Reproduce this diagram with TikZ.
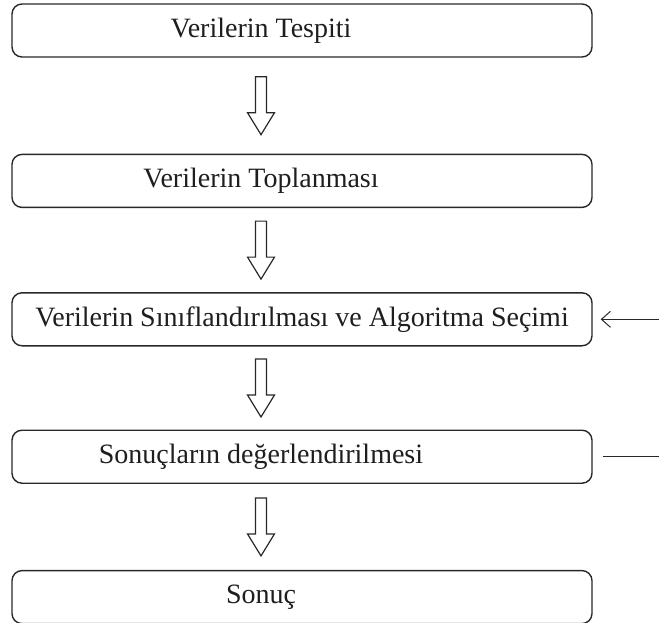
\documentclass[tikz,border=0pt]{standalone}
\usepackage{fontspec}
\setmainfont{Liberation Serif}
\usetikzlibrary{positioning, arrows.meta, calc}
\definecolor{LineColor}{RGB}{40,40,40}
\definecolor{TextColor}{RGB}{30,30,30}

\begin{document}
\begin{tikzpicture}[x=1pt, y=1pt,
    box/.style={draw=LineColor, line width=1.4pt, rounded corners=10pt, minimum width=580pt, minimum height=53pt},
    lbl/.style={text=TextColor, font=\fontsize{28}{30}\selectfont, inner sep=0pt},
    blk/.style={draw=LineColor, line width=1.2pt, fill=white, line join=miter},
    fb/.style={draw=LineColor, line width=1pt}]
  \useasboundingbox (0,0) rectangle (659,-623);
  \coordinate (ax) at (261,0);
  \coordinate (edge) at (659,0);

  \node[box] (b1) at (302,-30.5) {};
  \node[box, below=96pt of b1] (b2) {};
  \node[box, below=84pt of b2] (b3) {};
  \node[box, below=83pt of b3] (b4) {};
  \node[box, below=86pt of b4] (b5) {};

  \node[lbl] (t1) at (b1.center -| ax) {Verilerin Tespiti};
  \node[lbl] (t2) at (b2.center -| ax) {Verilerin Toplanması};
  \node[lbl] (t3) at (b3.center) {Verilerin Sınıflandırılması ve Algoritma Seçimi};
  \node[lbl] (t4) at (b4.center -| ax) {Sonuçların değerlendirilmesi};
  \node[lbl] (t5) at (b5.center -| ax) {Sonuç};

  % hollow block arrows between the steps
  \foreach \a/\b in {b1/b2, b2/b3, b3/b4, b4/b5}
    \draw[blk] ($($(\a.south -| ax)!.5!(\b.north -| ax)$)+(-5.5,29)$) -- ++(11,0) -- ++(0,-36)
      -- ++(8,0) -- ++(-13.5,-22) -- ++(-13.5,22) -- ++(8,0) -- cycle;

  % feedback from the evaluation back to the selection
  \draw[fb, -{Straight Barb[length=9pt, width=16pt, line width=1pt]}] (b3.east -| edge) -- ([xshift=8pt]b3.east);
  \draw[fb] ([xshift=10pt]b4.east) -- (b4.east -| edge);
\end{tikzpicture}
\end{document}
